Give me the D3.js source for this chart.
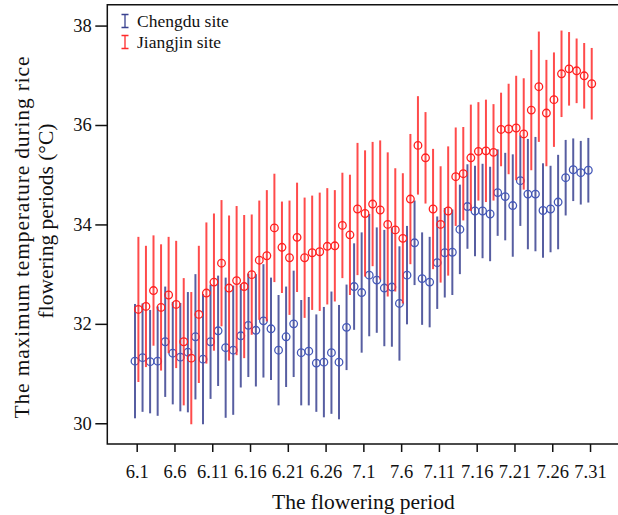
<!DOCTYPE html>
<html>
<head>
<meta charset="utf-8">
<script src="https://cdn.jsdelivr.net/npm/d3@7"></script>
<style>
  body { margin: 0; background: #fff; }
  svg { display: block; font-family: "Liberation Serif", "Times New Roman", serif; }
</style>
</head>
<body>
<div id="chart"></div>
<script>
// flowering dates, 1 June .. 31 July
var dates = ["6.1","6.2","6.3","6.4","6.5","6.6","6.7","6.8","6.9","6.10",
    "6.11","6.12","6.13","6.14","6.15","6.16","6.17","6.18","6.19","6.20",
    "6.21","6.22","6.23","6.24","6.25","6.26","6.27","6.28","6.29","6.30",
    "7.1","7.2","7.3","7.4","7.5","7.6","7.7","7.8","7.9","7.10",
    "7.11","7.12","7.13","7.14","7.15","7.16","7.17","7.18","7.19","7.20",
    "7.21","7.22","7.23","7.24","7.25","7.26","7.27","7.28","7.29","7.30","7.31"];

var tickLabels = ["6.1","6.6","6.11","6.16","6.21","6.26","7.1","7.6","7.11","7.16","7.21","7.26","7.31"];

// Chengdu site: mean and error (half length of bar)
var chengduMean = [31.25, 31.32, 31.24, 31.25, 31.64, 31.41, 31.33, 31.43, 31.74, 31.29,
    31.64, 31.86, 31.52, 31.47, 31.76, 31.97, 31.87, 32.06, 31.90, 31.47,
    31.74, 32.00, 31.42, 31.45, 31.21, 31.23, 31.42, 31.23, 31.93, 32.75,
    32.63, 32.98, 32.88, 32.72, 32.74, 32.41, 32.98, 33.63, 32.91, 32.84,
    33.23, 33.43, 33.44, 33.90, 34.36, 34.27, 34.27, 34.21, 34.64, 34.56,
    34.38, 34.88, 34.61, 34.61, 34.28, 34.31, 34.45, 34.94, 35.10, 35.04, 35.09];
var chengduErr = [1.15, 1.09, 1.04, 1.10, 1.11, 1.03, 1.09, 1.21, 1.26, 1.31,
    1.15, 1.11, 1.41, 1.30, 1.04, 1.04, 1.13, 1.14, 1.03, 1.11,
    1.01, 1.07, 1.06, 1.09, 0.98, 1.11, 1.23, 1.15, 0.86, 0.87,
    1.21, 1.23, 1.06, 1.17, 1.20, 1.15, 0.99, 0.85, 0.93, 0.91,
    0.93, 0.90, 0.86, 0.90, 0.85, 0.91, 0.95, 0.95, 0.87, 0.88,
    1.03, 0.91, 1.11, 1.15, 0.95, 0.87, 0.95, 0.76, 0.63, 0.64, 0.65];

// Jiangjin site
var jiangjinMean = [32.29, 32.35, 32.67, 32.33, 32.58, 32.39, 31.64, 31.31, 32.19, 32.62,
    32.84, 33.22, 32.72, 32.87, 32.75, 32.99, 33.28, 33.37, 33.93, 33.54,
    33.33, 33.74, 33.33, 33.43, 33.45, 33.56, 33.57, 33.98, 33.79, 34.31,
    34.22, 34.41, 34.29, 34.00, 33.89, 33.72, 34.51, 35.59, 35.34, 34.31,
    34.00, 34.27, 34.96, 35.02, 35.34, 35.47, 35.48, 35.45, 35.91, 35.92,
    35.94, 35.82, 36.30, 36.77, 36.24, 36.51, 37.03, 37.13, 37.09, 36.99, 36.83];
var jiangjinErr = [1.46, 1.22, 1.11, 1.27, 1.17, 1.28, 1.28, 1.33, 1.38, 1.42,
    1.38, 1.27, 1.46, 1.50, 1.44, 1.21, 1.20, 1.32, 1.09, 0.92,
    1.15, 1.10, 1.21, 1.15, 1.19, 1.17, 1.12, 1.06, 1.21, 1.33,
    1.27, 1.25, 1.40, 1.45, 1.24, 1.31, 1.31, 0.99, 0.92, 1.21,
    1.17, 1.30, 0.99, 0.94, 1.07, 0.99, 1.03, 0.97, 0.74, 0.91,
    1.05, 1.12, 1.21, 1.11, 1.07, 0.95, 0.87, 0.74, 0.65, 0.66, 0.72];

var yTicks = [30, 32, 34, 36, 38];

var series = [
    {name: "Chengdu site", mean: chengduMean, err: chengduErr, bar: "#3a4290", dot: "#4357b8", dx: -1.7},
    {name: "Jiangjin site", mean: jiangjinMean, err: jiangjinErr, bar: "#ff2b2b", dot: "#ff1f1f", dx: 1.7}
];

var width = 618, height = 515;
var margin = {top: 4.7, right: -1.5, bottom: 71, left: 107.3};

var svg = d3.select("#chart").append("svg")
    .attr("width", width)
    .attr("height", height);

var x = d3.scaleLinear()
    .domain([-3.89, 63.9])
    .range([margin.left, width - margin.right]);

var y = d3.scaleLinear()
    .domain([29.583, 38.42])
    .range([height - margin.bottom, margin.top]);

// error bars and circles
series.forEach(function (s) {
    var g = svg.append("g");
    var pts = dates.map(function (d, i) {
        return {i: i, m: s.mean[i], e: s.err[i]};
    });

    g.selectAll("line")
        .data(pts)
        .enter().append("line")
        .attr("x1", function (d) { return x(d.i) + s.dx; })
        .attr("x2", function (d) { return x(d.i) + s.dx; })
        .attr("y1", function (d) { return y(d.m - d.e); })
        .attr("y2", function (d) { return y(d.m + d.e); })
        .attr("stroke", s.bar)
        .attr("stroke-width", 2)
        .attr("stroke-opacity", 0.85);

    g.selectAll("circle")
        .data(pts)
        .enter().append("circle")
        .attr("cx", function (d) { return x(d.i) + s.dx; })
        .attr("cy", function (d) { return y(d.m); })
        .attr("r", 3.8)
        .attr("fill", "none")
        .attr("stroke", s.dot)
        .attr("stroke-width", 1.3);
});

// frame: left + top + bottom
svg.append("path")
    .attr("d", "M" + x.range()[1] + "," + y.range()[1] +
        "H" + margin.left + "V" + y.range()[0] + "H" + x.range()[1])
    .attr("fill", "none")
    .attr("stroke", "#111")
    .attr("stroke-width", 1.5);

// x axis
var tickIdx = tickLabels.map(function (t) { return dates.indexOf(t); });
var xAxis = svg.append("g")
    .attr("transform", "translate(0," + y.range()[0] + ")")
    .call(d3.axisBottom(x)
        .tickValues(tickIdx)
        .tickFormat(function (d) { return dates[d]; })
        .tickSize(8)
        .tickPadding(13));
xAxis.select(".domain").remove();
xAxis.selectAll("line").attr("stroke", "#111").attr("stroke-width", 1.5);
xAxis.selectAll("text")
    .attr("fill", "#111")
    .style("font-family", "Liberation Serif")
    .style("font-size", "18.5px");

// y axis
var yAxis = svg.append("g")
    .attr("transform", "translate(" + margin.left + ",0)")
    .call(d3.axisLeft(y)
        .tickValues(yTicks)
        .tickSize(12)
        .tickPadding(3.5));
yAxis.select(".domain").remove();
yAxis.selectAll("line").attr("stroke", "#111").attr("stroke-width", 1.5);
yAxis.selectAll("text")
    .attr("fill", "#111")
    .style("font-family", "Liberation Serif")
    .style("font-size", "18.5px");

// axis titles
svg.append("text")
    .attr("x", (margin.left + x.range()[1]) / 2)
    .attr("y", 509)
    .attr("text-anchor", "middle")
    .style("font-size", "21.5px")
    .attr("fill", "#111")
    .text("The flowering period");

var yTitle = svg.append("text")
    .attr("transform", "rotate(-90)")
    .attr("text-anchor", "middle")
    .style("font-size", "21.5px")
    .attr("fill", "#111");
yTitle.append("tspan")
    .attr("x", -237.5).attr("y", 28.5)
    .attr("textLength", 362)
    .attr("lengthAdjust", "spacing")
    .text("The maximum temperature during rice");
yTitle.append("tspan")
    .attr("x", -221).attr("y", 52.5)
    .text("flowering periods (°C)");

// legend
var legend = svg.append("g").attr("transform", "translate(125,21)");
series.forEach(function (s, i) {
    var row = legend.append("g").attr("transform", "translate(0," + (i * 21) + ")");
    row.append("path")
        .attr("d", "M-3.5,-6.5H3.5M0,-6.5V6.5M-3.5,6.5H3.5")
        .attr("fill", "none")
        .attr("stroke", s.bar)
        .attr("stroke-width", 1.3);
    row.append("text")
        .attr("x", 12)
        .attr("dy", "0.33em")
        .style("font-size", "17.5px")
        .attr("fill", "#111")
        .text(s.name);
});
</script>
</body>
</html>
